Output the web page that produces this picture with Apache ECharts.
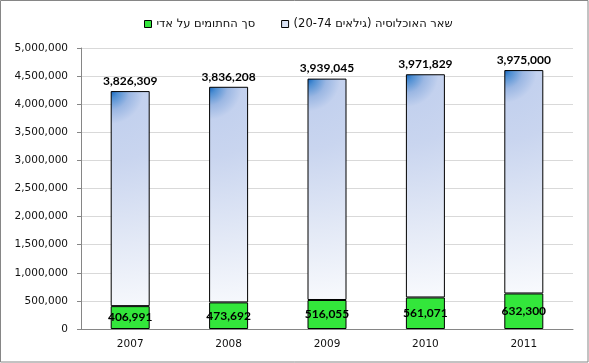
<!DOCTYPE html>
<html dir="rtl"><head><meta charset="utf-8">
<script src="https://cdn.jsdelivr.net/npm/echarts@6/dist/echarts.min.js"></script>
<style>html,body{margin:0;padding:0;background:#fff}#c{width:589px;height:363px;direction:rtl}</style>
</head><body><div id="c"></div>
<script>
const categories = ['2007', '2008', '2009', '2010', '2011'];
const signedValues = [406991, 473692, 516055, 561071, 632300];
const restValues = [3826309, 3836208, 3939045, 3971829, 3975000];
const yTicks = [0, 500000, 1000000, 1500000, 2000000, 2500000, 3000000, 3500000, 4000000, 4500000, 5000000];
const nameSigned = 'סך החתומים על אדי';
const nameRest = 'שאר האוכלוסיה (גילאים 20-74)';

const fmt = v => Number(v).toLocaleString('en-US');
const chart = echarts.init(document.getElementById('c'), null, {renderer: 'canvas'});
chart.setOption({
  animation: false,
  graphic: [{type: 'rect', shape: {x: 0.5, y: 0.5, width: 587.5, height: 361.5},
    style: {fill: 'none', stroke: '#868686', lineWidth: 1}, silent: true}],
  legend: {
    left: 139, top: 13, itemWidth: 7, itemHeight: 7, itemGap: 26, icon: 'rect',
    textStyle: {fontFamily: 'DejaVu Sans', fontSize: 11.5, color: '#111'},
    data: [
      {name: nameSigned, itemStyle: {color: '#33e63b', borderColor: '#000', borderWidth: 1}},
      {name: nameRest, itemStyle: {color: '#d9e1f3', borderColor: '#000', borderWidth: 1}}
    ]
  },
  grid: {left: 81, right: 16, top: 48, bottom: 34},
  xAxis: {
    type: 'category', data: categories,
    axisLine: {lineStyle: {color: '#868686'}},
    axisTick: {length: 5, lineStyle: {color: '#868686'}},
    axisLabel: {fontFamily: 'DejaVu Sans', fontSize: 10.5, color: '#111', margin: 10}
  },
  yAxis: {
    type: 'value', min: yTicks[0], max: yTicks[yTicks.length - 1], interval: yTicks[1] - yTicks[0],
    axisLine: {show: true, lineStyle: {color: '#868686'}},
    axisTick: {show: true, length: 4, lineStyle: {color: '#868686'}},
    splitLine: {lineStyle: {color: '#d9d9d9'}},
    axisLabel: {fontFamily: 'DejaVu Sans', fontSize: 10.5, color: '#111', margin: 13, formatter: fmt}
  },
  series: [
    {
      name: nameSigned, type: 'bar', stack: 's', data: signedValues, barWidth: 39,
      itemStyle: {color: '#33e63b', borderColor: '#000', borderWidth: 1},
      label: {show: true, position: 'inside', formatter: p => fmt(p.value),
        fontFamily: 'Lato', fontWeight: 'bold', fontSize: 12, color: '#000'}
    },
    {
      name: nameRest, type: 'bar', stack: 's', data: restValues, barWidth: 39,
      itemStyle: {
        borderColor: '#000', borderWidth: 1,
        color: {type: 'radial', x: 0, y: 0, r: 6, colorStops: [
          {offset: 0, color: '#1366c0'},
          {offset: 0.03, color: '#4f8fd3'},
          {offset: 0.08, color: '#9bb7e3'},
          {offset: 0.14, color: '#c3d1ee'},
          {offset: 0.3, color: '#c9d5ef'},
          {offset: 0.65, color: '#e3e9f6'},
          {offset: 1, color: '#fbfcfe'}
        ]}
      },
      label: {show: true, position: 'top', distance: 4, formatter: p => fmt(p.value),
        fontFamily: 'Lato', fontWeight: 'bold', fontSize: 12, color: '#000'}
    }
  ]
});
</script></body></html>
